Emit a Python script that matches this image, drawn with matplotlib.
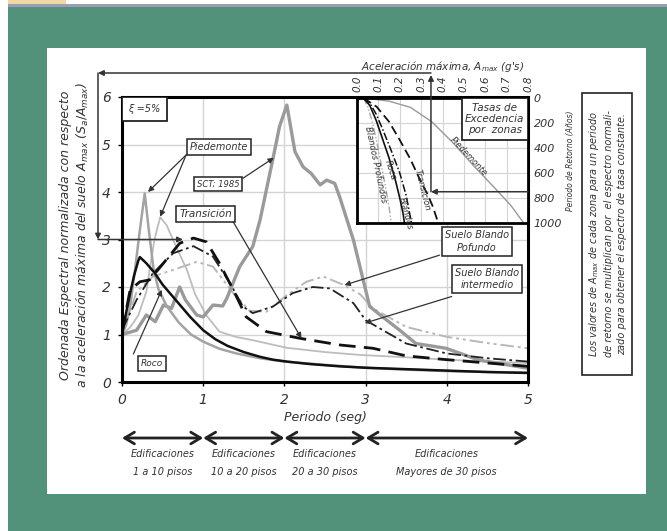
import matplotlib
matplotlib.use("Agg")
import matplotlib.pyplot as plt
import matplotlib.transforms as mtransforms
from matplotlib.patches import Rectangle

plt.rcParams['font.family'] = ['DejaVu Sans']
plt.rcParams['mathtext.fontset'] = 'dejavusans'

# ---------------- data (main spectra) ----------------
periodo_roca = [0, 0.05, 0.1, 0.15, 0.2, 0.22, 0.3, 0.4, 0.5, 0.6, 0.7, 0.84, 1.0, 1.15, 1.3, 1.5, 1.7, 1.86, 2.03, 2.3, 2.68, 3.0, 3.5, 4.0, 4.5, 5.0]
sa_roca = [1.0, 1.45, 1.87, 2.25, 2.55, 2.63, 2.5, 2.3, 2.05, 1.85, 1.65, 1.37, 1.09, 0.9, 0.76, 0.63, 0.53, 0.47, 0.43, 0.38, 0.33, 0.3, 0.27, 0.24, 0.21, 0.19]

periodo_pied_a = [0, 0.05, 0.1, 0.16, 0.22, 0.28, 0.33, 0.39, 0.45, 0.55, 0.7, 0.85, 1.0, 1.2, 1.41, 1.7, 2.0, 2.5, 3.0, 3.5, 4.0, 4.5, 5.0]
sa_pied_a = [1.0, 1.2, 1.6, 2.36, 3.2, 3.97, 3.2, 2.36, 1.95, 1.6, 1.25, 1.0, 0.85, 0.7, 0.6, 0.5, 0.43, 0.36, 0.3, 0.26, 0.23, 0.21, 0.2]

periodo_pied_b = [0, 0.1, 0.2, 0.3, 0.34, 0.4, 0.47, 0.55, 0.63, 0.72, 0.8, 0.9, 1.04, 1.2, 1.4, 1.61, 2.03, 2.5, 2.93, 3.5, 4.0, 4.5, 5.0]
sa_pied_b = [1.0, 1.15, 1.4, 1.9, 2.36, 3.0, 3.47, 3.3, 2.99, 2.65, 2.36, 1.85, 1.4, 1.06, 0.95, 0.88, 0.72, 0.63, 0.57, 0.52, 0.47, 0.43, 0.4]

periodo_trans = [0, 0.1, 0.22, 0.34, 0.51, 0.71, 0.88, 1.04, 1.2, 1.37, 1.53, 1.78, 2.19, 2.68, 3.09, 3.5, 4.0, 4.5, 5.0]
sa_trans = [1.05, 1.94, 2.11, 2.15, 2.5, 2.92, 3.03, 2.95, 2.5, 1.94, 1.37, 1.06, 0.92, 0.78, 0.71, 0.55, 0.47, 0.4, 0.33]

periodo_bint = [0, 0.18, 0.38, 0.63, 0.88, 1.12, 1.33, 1.49, 1.61, 1.86, 2.1, 2.35, 2.56, 2.85, 3.0, 3.5, 4.0, 4.5, 5.0]
sa_bint = [1.1, 1.73, 2.29, 2.71, 2.86, 2.64, 2.08, 1.59, 1.45, 1.59, 1.87, 2.0, 1.97, 1.66, 1.3, 0.81, 0.6, 0.5, 0.43]

periodo_bprof = [0, 0.18, 0.38, 0.63, 0.92, 1.12, 1.37, 1.57, 1.78, 2.03, 2.27, 2.48, 2.72, 2.93, 3.09, 3.5, 4.0, 4.5, 5.0]
sa_bprof = [1.0, 1.9, 2.22, 2.36, 2.53, 2.43, 1.87, 1.5, 1.48, 1.83, 2.11, 2.22, 2.05, 1.85, 1.55, 1.16, 0.95, 0.82, 0.71]

periodo_sct = [0, 0.18, 0.3, 0.41, 0.51, 0.61, 0.71, 0.78, 0.92, 1.0, 1.12, 1.24, 1.29, 1.45, 1.61, 1.7, 1.86, 1.94, 2.03, 2.13, 2.23, 2.33, 2.44, 2.52, 2.62, 2.68, 2.85, 3.05, 3.21, 3.42, 3.62, 3.99, 4.4, 5.0]
sa_sct = [1.0, 1.09, 1.41, 1.27, 1.62, 1.55, 2.0, 1.73, 1.41, 1.37, 1.62, 1.6, 1.76, 2.43, 2.85, 3.41, 4.71, 5.38, 5.83, 4.85, 4.53, 4.39, 4.15, 4.25, 4.18, 3.9, 2.99, 1.59, 1.37, 1.09, 0.81, 0.71, 0.46, 0.29]

# ---------------- data (inset: return period vs Amax) ----------------
amax_bprof = [0.03, 0.05, 0.07, 0.09, 0.11, 0.13, 0.15, 0.16]
tr_bprof = [0, 70, 180, 330, 500, 680, 870, 1000]
amax_roca = [0.03, 0.06, 0.09, 0.12, 0.15, 0.18, 0.2, 0.215, 0.222]
tr_roca = [0, 60, 180, 330, 480, 660, 800, 920, 1000]
amax_bint = [0.03, 0.06, 0.09, 0.12, 0.16, 0.2, 0.23, 0.255]
tr_bint = [0, 40, 130, 250, 420, 600, 780, 1000]
amax_trans = [0.03, 0.092, 0.15, 0.2, 0.25, 0.295, 0.33, 0.355, 0.38]
tr_trans = [0, 70, 190, 336, 490, 656, 770, 870, 1000]
amax_pied = [0.03, 0.15, 0.25, 0.35, 0.45, 0.55, 0.65, 0.72, 0.78]
tr_pied = [0, 25, 75, 190, 360, 550, 730, 860, 1000]

xticks_main = [0, 1, 2, 3, 4, 5]
yticks_main = [0, 1, 2, 3, 4, 5, 6]
xticks_inset = [0.0, 0.1, 0.2, 0.3, 0.4, 0.5, 0.6, 0.7, 0.8]
yticks_inset = [0, 200, 400, 600, 800, 1000]

# example path values
amax_ejemplo = 0.346
tr_ejemplo = 750
t_pico = 0.75
sa_pico = 3.0

rangos = [(0, 1), (1, 2), (2, 3), (3, 5)]
rango_textos = ["Edificaciones\n1 a 10 pisos", "Edificaciones\n10 a 20 pisos",
                "Edificaciones\n20 a 30 pisos", "Edificaciones\nMayores de 30 pisos"]

W, H = 667, 531
fig = plt.figure(figsize=(W / 100, H / 100), dpi=100, facecolor='white')

def fx(px):
    return px / W

def fy(py):
    return 1 - py / H

GREEN = '#52927a'
fig.add_artist(Rectangle((fx(8), 0), 1, fy(6), transform=fig.transFigure, fc=GREEN, ec='none', zorder=-20))
fig.add_artist(Rectangle((fx(8), fy(4)), fx(58), 4 / H, transform=fig.transFigure, fc='#f3d7a3', ec='none', zorder=-20))
fig.add_artist(Rectangle((fx(8), fy(6.5)), 1, 2 / H, transform=fig.transFigure, fc='#9c9cb4', ec='none', zorder=-19))
fig.add_artist(Rectangle((fx(47), fy(494)), fx(599), 446 / H, transform=fig.transFigure, fc='white', ec='none', zorder=-10))

TXT = '#333333'

# ---------------- main axes ----------------
ax = fig.add_axes([fx(122), fy(382), fx(406), 285 / H])
ax.set_xlim(0, 5)
ax.set_ylim(0, 6)
ax.set_xticks(xticks_main)
ax.set_yticks(yticks_main)
ax.set_xticklabels([str(v) for v in xticks_main], fontsize=10, style='italic', color=TXT)
ax.set_yticklabels([str(v) for v in yticks_main], fontsize=10, style='italic', color=TXT)
ax.tick_params(length=3, width=1, pad=5)
ax.grid(True, color='#d4d4d4', lw=1)
ax.set_axisbelow(True)
for s in ax.spines.values():
    s.set_linewidth(2.2)
ax.set_xlabel("Periodo (seg)", fontsize=9, style='italic', color=TXT, labelpad=3)

ax.plot(periodo_bprof, sa_bprof, color='#b8b8b8', lw=1.4, dashes=(7, 2, 1.5, 2, 1.5, 2))
ax.plot(periodo_pied_b, sa_pied_b, color='#bdbdbd', lw=1.3)
ax.plot(periodo_sct, sa_sct, color='#9a9a9a', lw=2.4)
ax.plot(periodo_pied_a, sa_pied_a, color='#a3a3a3', lw=1.8)
ax.plot(periodo_bint, sa_bint, color='#222222', lw=1.3, dashes=(7, 2, 1.5, 2))
ax.plot(periodo_trans, sa_trans, color='#111111', lw=2.0, dashes=(6, 3))
ax.plot(periodo_roca, sa_roca, color='#111111', lw=1.8)

box = dict(boxstyle='square,pad=0.3', fc='white', ec='#222222', lw=1.1)
arr = dict(arrowstyle='-|>', color='#333333', lw=0.9, mutation_scale=8, shrinkA=0, shrinkB=0)

ax.add_patch(Rectangle((0, 5.49), 0.55, 0.51, fc='white', ec='#222222', lw=1.3, zorder=5))
ax.text(0.275, 5.745, "ξ =5%", fontsize=7, style='italic', color=TXT, ha='center', va='center', zorder=6)

labels = [
    ("Piedemonte", 1.19, 4.95, 7),
    ("SCT; 1985", 1.18, 4.17, 6),
    ("Transición", 1.03, 3.53, 7.5),
    ("Roco", 0.37, 0.39, 6.5),
    ("Suelo Blando\nPofundo", 4.37, 2.96, 7),
    ("Suelo Blando\nintermedio", 4.5, 2.17, 7),
]
for t, x, y, fs in labels:
    ax.text(x, y, t, fontsize=fs, style='italic', color=TXT, ha='center', va='center',
            bbox=box, zorder=6, linespacing=1.3)

flechas = [
    ((0.79, 4.78), (0.32, 4.0)),
    ((0.79, 4.78), (0.47, 3.48)),
    ((1.49, 4.29), (1.87, 4.72)),
    ((1.37, 3.37), (2.21, 0.92)),
    ((0.14, 0.59), (0.49, 1.94)),
    ((3.91, 2.67), (2.74, 2.04)),
    ((4.06, 1.80), (2.99, 1.24)),
]
for a, b in flechas:
    ax.annotate('', xy=b, xytext=a, arrowprops=arr, zorder=4)

# building ranges below the axis
blend = mtransforms.blended_transform_factory(ax.transData, fig.transFigure)
for (a, b), t in zip(rangos, rango_textos):
    ax.annotate('', xy=(a, 93), xytext=(b, 93), xycoords=('data', 'figure pixels'),
                textcoords=('data', 'figure pixels'),
                arrowprops=dict(arrowstyle='<->,head_length=0.5,head_width=0.3', color='#222222', lw=2.0,
                                mutation_scale=14, shrinkA=0, shrinkB=0), annotation_clip=False)
    ax.text((a + b) / 2, fy(463), t, transform=blend,
            fontsize=7, style='italic', color=TXT, ha='center', va='center', linespacing=2.1)

fig.text(fx(75), fy(235),
         "Ordenada Espectral normalizada con respecto\n"
         "a la aceleración máxima del suelo $A_{max}$ ($S_a/A_{max}$)",
         rotation=90, ha='center', va='center', fontsize=9, style='italic', color=TXT, linespacing=1.25)

# ---------------- inset ----------------
ai = fig.add_axes([fx(357), fy(223), fx(171), 125 / H])
ai.set_facecolor('white')
ai.set_xlim(0, 0.8)
ai.set_ylim(1000, 0)
ai.xaxis.tick_top()
ai.yaxis.tick_right()
ai.set_xticks(xticks_inset)
ai.set_yticks(yticks_inset)
ai.set_xticklabels(["%.1f" % v for v in xticks_inset], rotation=90, fontsize=7.5, style='italic', color=TXT)
ai.set_yticklabels([str(v) for v in yticks_inset], fontsize=8, style='italic', color=TXT)
ai.tick_params(length=0, pad=4)
ai.grid(True, color='#d4d4d4', lw=0.8)
ai.set_axisbelow(True)
for s in ai.spines.values():
    s.set_linewidth(2.0)

ai.plot(amax_bprof, tr_bprof, color='#aaaaaa', lw=1.0, dashes=(5, 1.5, 1, 1.5, 1, 1.5))
ai.plot(amax_roca, tr_roca, color='#111111', lw=1.2)
ai.plot(amax_bint, tr_bint, color='#111111', lw=1.1, dashes=(5, 1.5, 1, 1.5))
ai.plot(amax_trans, tr_trans, color='#111111', lw=1.3, dashes=(5, 2.5))
ai.plot(amax_pied, tr_pied, color='#999999', lw=1.0)

ai.add_patch(Rectangle((0.49, 0), 0.31, 336, fc='white', ec='#222222', lw=1.3, zorder=5))
ai.text(0.645, 168, "Tasas de\nExcedencia\npor  zonas", fontsize=7.5, style='italic', color=TXT,
        ha='center', va='center', zorder=6, linespacing=1.15)

for t, x, y, r in [("Piedemonte", 0.52, 472, -47), ("Transición", 0.306, 736, -76),
                   ("Roca", 0.154, 576, -72), ("Blandos", 0.228, 920, -75),
                   ("Blandos Profundos", 0.088, 536, -78)]:
    ai.text(x, y, t, rotation=r, fontsize=6, style='italic', color=TXT, ha='center', va='center',
            rotation_mode='anchor')

ai.text(1.25, 0.5, "Periodo de Retorno (Años)", transform=ai.transAxes, rotation=90,
        fontsize=5.5, style='italic', color=TXT, ha='center', va='center')
fig.text(fx(443), fy(66), "Aceleración máxima, $A_{max}$ (g's)", fontsize=7.5, style='italic',
         color=TXT, ha='center', va='center')

# example path arrows
parr = dict(arrowstyle='-|>', color='#333333', lw=1.1, mutation_scale=8, shrinkA=0, shrinkB=0)
ai.annotate('', xy=(amax_ejemplo, tr_ejemplo), xytext=(0.8, tr_ejemplo), arrowprops=parr, zorder=7)
ai.annotate('', xy=(amax_ejemplo, H - 75), xytext=(amax_ejemplo, tr_ejemplo),
            xycoords=('data', 'figure pixels'), textcoords='data', arrowprops=parr, annotation_clip=False)
ai.annotate('', xy=(98, H - 73), xytext=(amax_ejemplo, H - 73),
            xycoords='figure pixels', textcoords=('data', 'figure pixels'),
            arrowprops=parr, annotation_clip=False)
ax.annotate('', xy=(98, sa_pico), xytext=(98, H - 73),
            xycoords=('figure pixels', 'data'), textcoords='figure pixels', arrowprops=parr, annotation_clip=False)
ax.annotate('', xy=(t_pico, sa_pico), xytext=(98, sa_pico),
            xycoords='data', textcoords=('figure pixels', 'data'), arrowprops=parr, annotation_clip=False)

# right note box
fig.add_artist(Rectangle((fx(582), fy(375)), fx(50), 282 / H, transform=fig.transFigure,
                         fc='white', ec='#222222', lw=1.2))
fig.text(fx(607), fy(234),
         "Los valores de $A_{max}$ de cada zona para un periodo\n"
         "de retorno se multiplican por  el espectro normali-\n"
         "zado para obtener el espectro de tasa constante.",
         rotation=90, ha='center', va='center', fontsize=7, style='italic', color=TXT, linespacing=1.35)

fig.savefig("out.png", dpi=100, facecolor=fig.get_facecolor())
